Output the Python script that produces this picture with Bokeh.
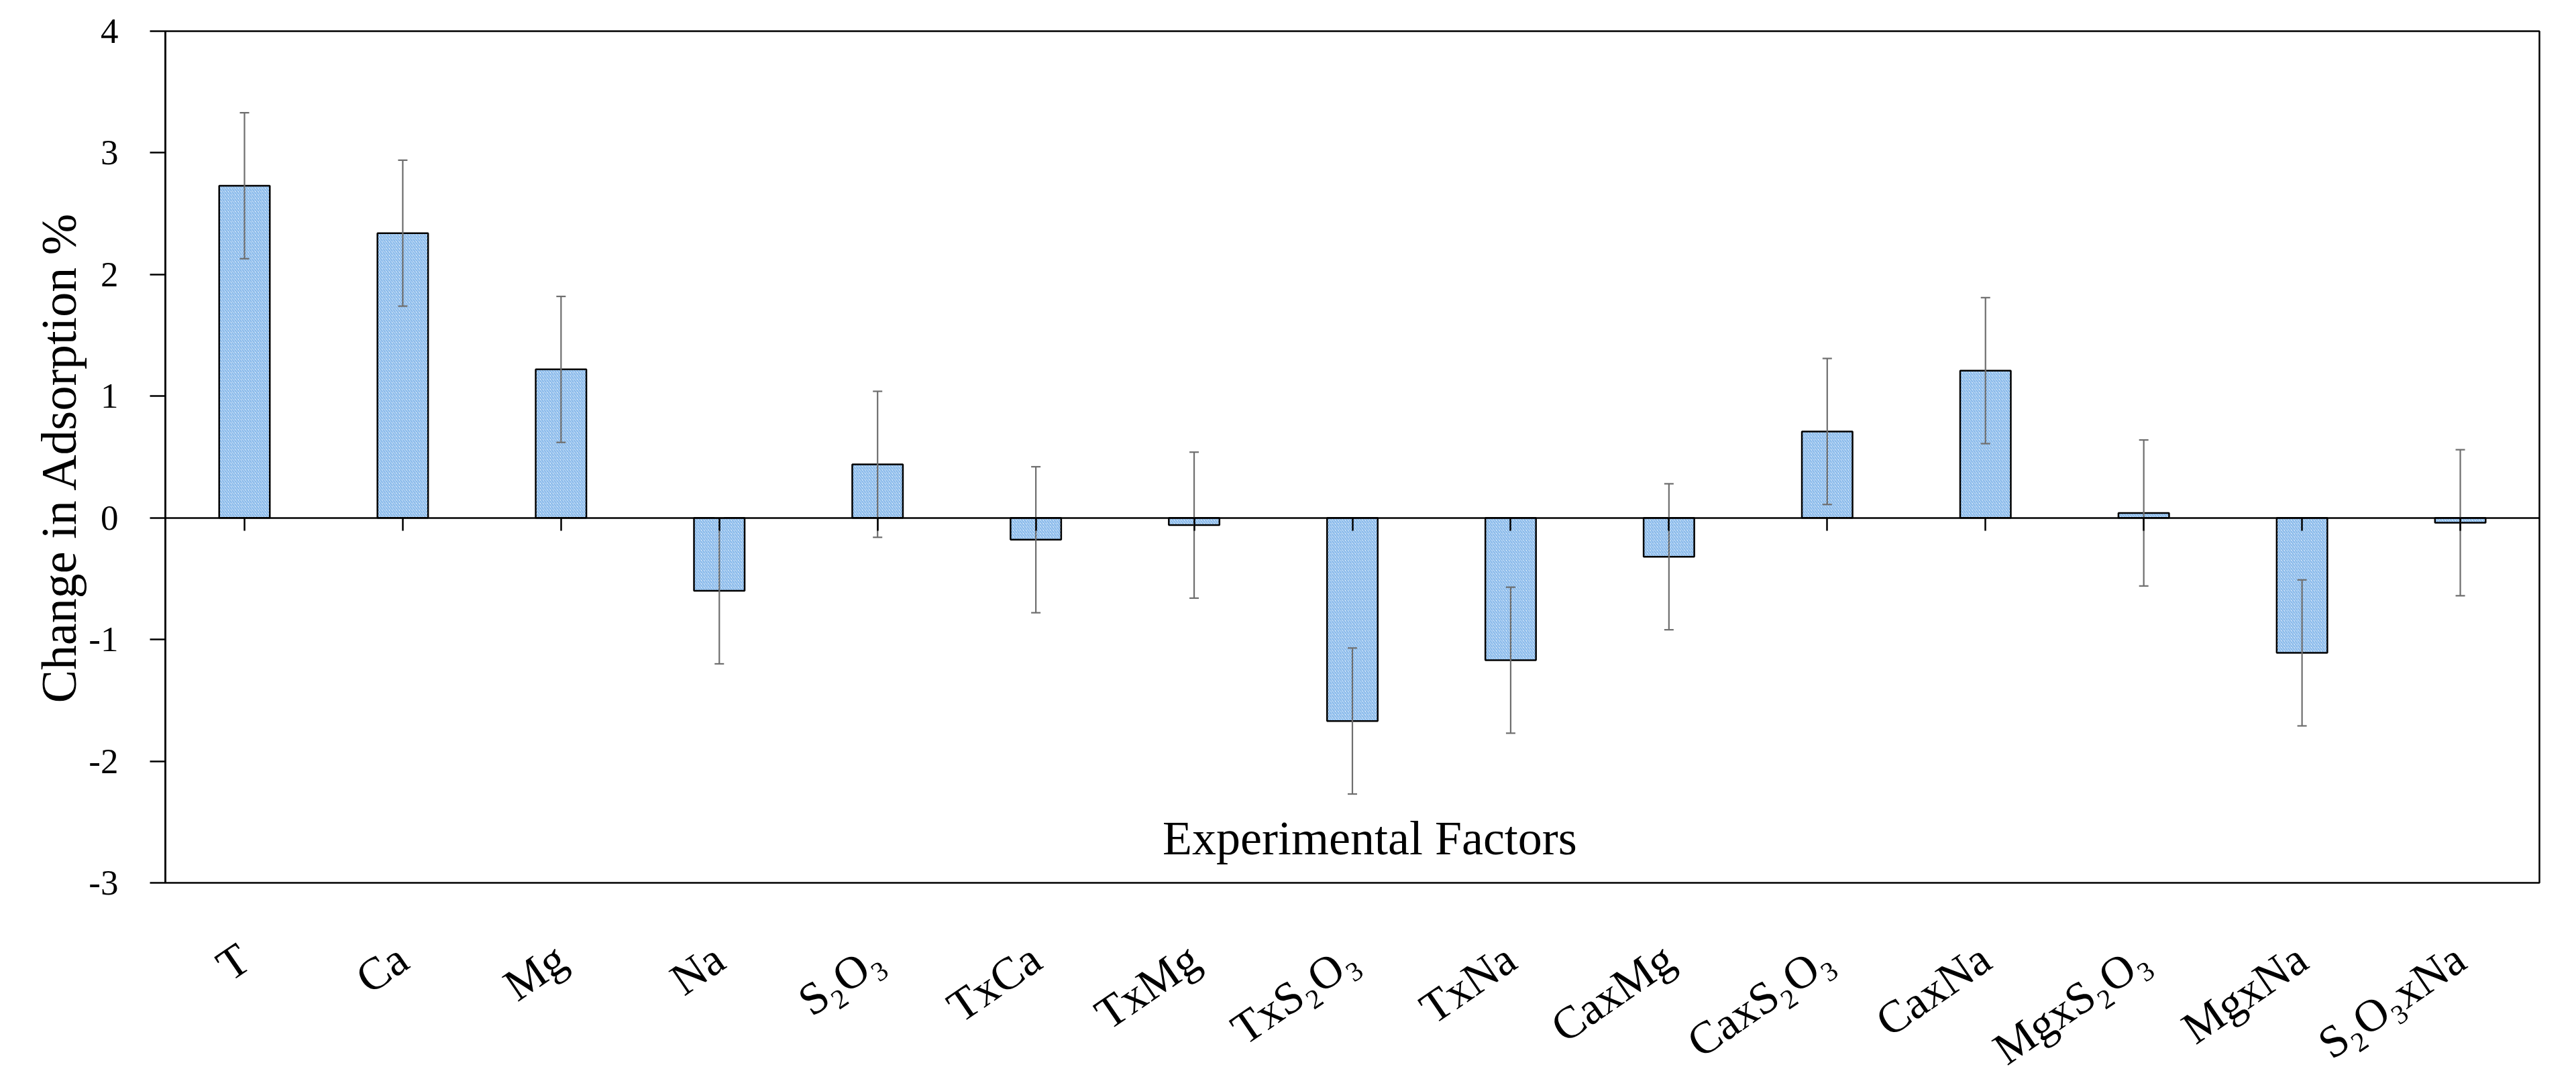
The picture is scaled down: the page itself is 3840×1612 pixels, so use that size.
from math import pi
from bokeh.plotting import figure
from bokeh.models import (ColumnDataSource, FactorRange, Range1d, Whisker, TeeHead, Label,
                          CategoricalAxis, FixedTicker, CustomJSTickFormatter)
from bokeh.embed import file_html
from bokeh.resources import INLINE

# ---- data ----
factors = ["T", "Ca", "Mg", "Na", "S\u2082O\u2083", "TxCa", "TxMg", "TxS\u2082O\u2083", "TxNa",
           "CaxMg", "CaxS\u2082O\u2083", "CaxNa", "MgxS\u2082O\u2083", "MgxNa", "S\u2082O\u2083xNa"]
effects = [2.73, 2.34, 1.22, -0.60, 0.44, -0.18, -0.06, -1.67, -1.17,
           -0.32, 0.71, 1.21, 0.04, -1.11, -0.04]
errors = [0.60, 0.60, 0.60, 0.60, 0.60, 0.60, 0.60, 0.60, 0.60,
          0.60, 0.60, 0.60, 0.60, 0.60, 0.60]
y_ticks = [-3, -2, -1, 0, 1, 2, 3, 4]
y_title = "Change in Adsorption %"
x_title = "Experimental Factors"

FONT = "Liberation Serif"

src = ColumnDataSource(dict(
    factor=factors,
    effect=effects,
    upper=[e + s for e, s in zip(effects, errors)],
    lower=[e - s for e, s in zip(effects, errors)],
))

p = figure(x_range=FactorRange(factors=factors), y_range=Range1d(y_ticks[0], y_ticks[-1]),
           width=None, height=None, frame_width=3539, frame_height=1270,
           output_backend="svg", toolbar_location=None,
           min_border_left=246, min_border_right=20, min_border_top=46, min_border_bottom=200)
p.background_fill_color = "white"
p.border_fill_color = "white"
p.xgrid.visible = False
p.ygrid.visible = False
p.outline_line_color = "black"
p.outline_line_width = 2.5
p.outline_line_alpha = 1.0

p.vbar(x="factor", top="effect", bottom=0, width=0.32, source=src,
       fill_color="#f2f7fd", hatch_pattern="/", hatch_color="#62a3e4",
       hatch_scale=5, hatch_weight=1.4, line_color="black", line_width=2.5)

w = Whisker(base="factor", upper="upper", lower="lower", source=src,
            line_color="#6e6e6e", line_width=2.2, level="glyph",
            upper_head=TeeHead(size=14, line_color="#6e6e6e", line_width=2.2),
            lower_head=TeeHead(size=14, line_color="#6e6e6e", line_width=2.2))
p.add_layout(w)

# y axis
ya = p.yaxis[0]
ya.ticker = FixedTicker(ticks=y_ticks)
ya.formatter = CustomJSTickFormatter(code="return tick.toFixed(0);")
ya.major_label_text_font = FONT
ya.major_label_text_font_size = "53px"
ya.major_label_text_color = "black"
ya.major_label_standoff = 47
ya.major_tick_out = 23
ya.major_tick_in = 0
ya.minor_tick_line_color = None
ya.major_tick_line_color = "black"
ya.major_tick_line_width = 2.5
ya.axis_line_color = "black"
ya.axis_line_width = 2.5
ya.axis_label = y_title
ya.axis_label_text_font = FONT
ya.axis_label_text_font_size = "74px"
ya.axis_label_text_font_style = "normal"
ya.axis_label_text_color = "black"
ya.axis_label_standoff = 0

# x axis with category labels (bottom)
xa = p.xaxis[0]
xa.axis_line_color = None
xa.major_tick_line_color = None
xa.minor_tick_line_color = None
xa.major_label_orientation = 0.6
xa.major_label_text_font = FONT
xa.major_label_text_font_size = "68px"
xa.major_label_text_color = "black"
xa.major_label_standoff = 100

# zero line axis with downward ticks
za = CategoricalAxis(fixed_location=0)
za.axis_line_color = "black"
za.axis_line_width = 2.5
za.major_tick_line_color = "black"
za.major_tick_line_width = 2.5
za.major_tick_out = 19
za.major_tick_in = 0
za.minor_tick_line_color = None
za.major_label_text_color = None
za.major_label_text_font_size = "0px"
p.add_layout(za, "below")

p.add_layout(Label(x=7.61, y=-2.636, text=x_title, text_align="center",
                   text_baseline="alphabetic", text_font=FONT,
                   text_font_size="72px", text_color="black"))

open("out.html", "w").write(file_html(p, INLINE))
